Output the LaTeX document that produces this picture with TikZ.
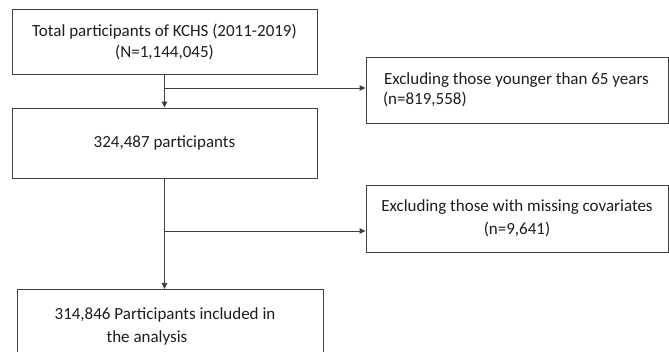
\documentclass[tikz,border=0pt]{standalone}
\usepackage{fontspec}
\setmainfont{Carlito}
\usetikzlibrary{arrows.meta}
\definecolor{linegray}{RGB}{64,64,64}
\definecolor{textgray}{RGB}{30,30,30}
\begin{document}
\begin{tikzpicture}[x=1pt,y=-1pt,
  box/.style={draw=linegray, line width=0.9pt, rectangle, inner sep=0pt, align=center,
    font=\fontsize{17}{21}\selectfont, text=textgray},
  conn/.style={draw=linegray, line width=0.9pt},
  arr/.style={conn, -{Triangle[length=6pt,width=5.5pt]}}]
\useasboundingbox (0,0) rectangle (669,352);
\fill[white] (0,0) rectangle (669,352);
\node[box, minimum width=305pt, minimum height=65pt] (b1) at (164.5,41.5)
  {Total participants of KCHS (2011-2019)\\(N=1,144,045)};
\node[box, minimum width=305pt, minimum height=70pt] (b2) at (164.5,143)
  {324,487 participants};
\node[box, minimum width=302pt, minimum height=66pt, text width=268pt, align=flush left,
  font=\fontsize{17}{19.5}\selectfont] (e1) at (517,90)
  {\hspace*{1pt}Excluding those younger than 65 years\\(n=819,558)};
\node[box, minimum width=302pt, minimum height=67pt, font=\fontsize{17}{23}\selectfont] (e2) at (517,218.5)
  {Excluding those with missing covariates\\(n=9,641)};
\node[box, minimum width=306pt, minimum height=75pt, anchor=north,
  font=\fontsize{17}{23}\selectfont] (b4) at (170,289)
  {\hspace*{-10pt}314,846 Participants included in\\\hspace*{-46pt}the analysis};
\coordinate (j1) at (164.5,88);
\coordinate (j2) at (164.5,231);
\draw[arr] (b1.south) -- (b2.north);
\draw[arr] (j1) -- (j1 -| e1.west);
\draw[arr] (b2.south) -- (b2.south |- b4.north);
\draw[arr] (j2) -- (j2 -| e2.west);
\end{tikzpicture}
\end{document}
